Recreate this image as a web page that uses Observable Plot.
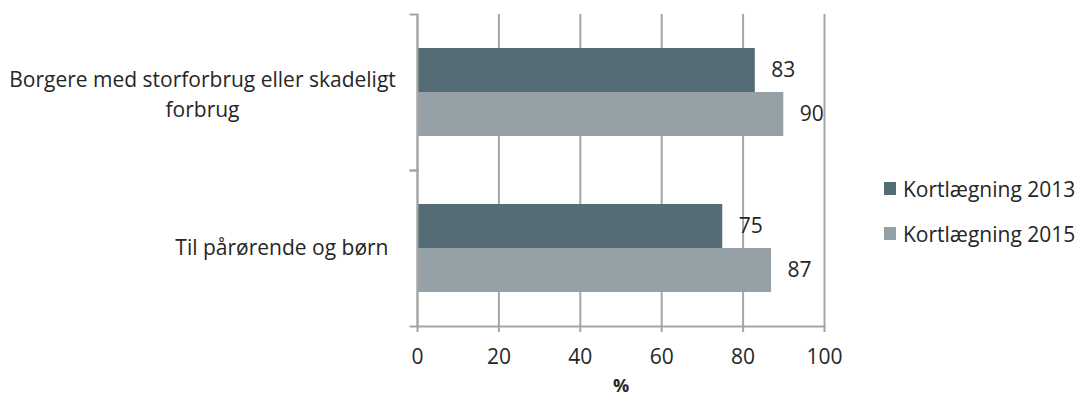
<!DOCTYPE html>
<html><head><meta charset="utf-8">
<script src="https://cdn.jsdelivr.net/npm/d3@7"></script>
<script src="https://cdn.jsdelivr.net/npm/@observablehq/plot@0.6"></script>
<style>
body{margin:0;background:#fff;font-family:"Open Sans",sans-serif;}
#wrap{position:relative;width:1080px;height:401px;}
#legend{position:absolute;left:884px;top:166px;font-size:21px;color:#262626;}
.item{display:flex;align-items:center;height:45px;white-space:nowrap;}
.sw{width:12px;height:13px;margin-right:7px;flex:none;}
</style></head><body>
<div id="wrap"><div id="chart"></div><div id="legend"></div></div>
<script>
const categories = ["Borgere med storforbrug eller skadeligt\nforbrug", "Til pårørende og børn"];
const series = ["Kortlægning 2013", "Kortlægning 2015"];
const values2013 = [83, 75];
const values2015 = [90, 87];
const xTicks = [0, 20, 40, 60, 80, 100];
const colors = ["#546c76", "#95a1a7"];
const axisLabel = "%";

const rows = categories.flatMap((c, i) => [
  {category: c, series: series[0], value: values2013[i]},
  {category: c, series: series[1], value: values2015[i]}
]);

const W = 1080, H = 401, mL = 417, mR = 256, mT = 14, mB = 75;
const inner = W - mL - mR;
const grid = "#a6a6a6", ink = "#262626";

const chart = Plot.plot({
  width: W, height: H, marginLeft: mL, marginRight: mR, marginTop: mT, marginBottom: mB,
  style: {fontFamily: '"Open Sans", sans-serif', fontSize: "21px", color: ink, background: "#fff"},
  x: {domain: [0, 100], ticks: xTicks},
  y: {domain: series, paddingInner: 0, paddingOuter: 0.753, axis: null},
  fy: {domain: categories, padding: 0, axis: null},
  color: {domain: series, range: colors},
  marks: [
    Plot.gridX(xTicks, {stroke: grid, strokeOpacity: 1, strokeWidth: 2}),
    Plot.barX(rows, {fy: "category", y: "series", x: "value", fill: "series"}),
    Plot.ruleX([0], {stroke: grid, strokeWidth: 2}),
    Plot.frame({anchor: "top", stroke: grid, strokeWidth: 2, insetLeft: -7, insetRight: inner}),
    Plot.frame({anchor: "bottom", stroke: grid, strokeWidth: 2, insetLeft: -7, insetRight: inner}),
    Plot.frame({anchor: "bottom", stroke: grid, strokeWidth: 2, facetAnchor: "bottom"}),
    Plot.axisX(xTicks, {tickSize: 6, tickPadding: 17, stroke: grid, strokeWidth: 2, fill: ink, label: null}),
    Plot.text(rows, {fy: "category", y: "series", x: "value", text: "value", textAnchor: "start", dx: 16, fill: ink}),
    Plot.text([categories[0]], {fy: d => d, text: d => d, frameAnchor: "left", textAnchor: "middle", dx: -215, lineHeight: 1.45, fill: ink}),
    Plot.text([categories[1]], {fy: d => d, text: d => d, frameAnchor: "left", textAnchor: "end", dx: -29, fill: ink}),
    Plot.text([axisLabel], {text: d => d, frameAnchor: "bottom", dy: 65, fontWeight: "bold", fontSize: 18, fill: ink, facetAnchor: "bottom"})
  ]
});
document.getElementById("chart").appendChild(chart);

const legend = document.getElementById("legend");
series.forEach((s, i) => {
  const item = document.createElement("div");
  item.className = "item";
  const sw = document.createElement("span");
  sw.className = "sw";
  sw.style.background = colors[i];
  const t = document.createElement("span");
  t.textContent = s;
  item.appendChild(sw);
  item.appendChild(t);
  legend.appendChild(item);
});
</script>
</body></html>
